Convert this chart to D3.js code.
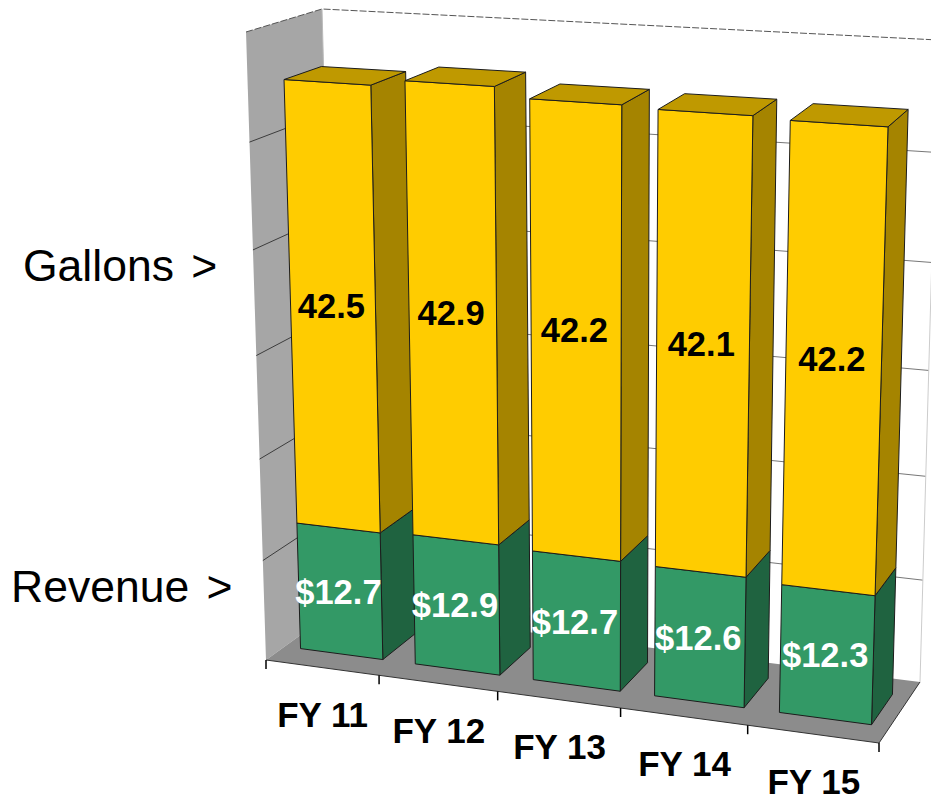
<!DOCTYPE html>
<html>
<head>
<meta charset="utf-8">
<script src="https://cdn.jsdelivr.net/npm/d3@7"></script>
<style>
  body { margin: 0; background: white; }
  text { font-family: "Liberation Sans", Arial, sans-serif; }
</style>
</head>
<body>
<div id="chart"></div>
<script>
// the values
var fiscalYears = ['FY 11', 'FY 12', 'FY 13', 'FY 14', 'FY 15'];
var revenue = [12.7, 12.9, 12.7, 12.6, 12.3];
var gallons = [42.5, 42.9, 42.2, 42.1, 42.2];
var valueTicks = [0, 10, 20, 30, 40, 50, 60];
var rowLabels = ['Gallons >', 'Revenue >'];

// some constants for the page
var chartWidth = 931;
var chartHeight = 797;

// corners of the 3d box on screen: bottom left, bottom right, top right, top left
var frontCorners = [[266, 660], [879, 743], [899, 72], [246, 32]];
var backCorners = [[338, 608], [920, 682], [938, 40], [322, 9]];

// scales into the unit box, the corners then take it to the screen
var xScale = d3.scaleBand().domain(fiscalYears).range([0, 1]).paddingInner(0.28).paddingOuter(0.14);
var tickScale = d3.scaleBand().domain(fiscalYears).range([0, 1]);
var tickBend = d3.scalePow().exponent(1.015).domain([0, 1]).range([0, 1]);
var yScale = d3.scaleLinear().domain([0, 60]).range([0, 1]);
var barFrontDepth = 0.26;
var barBackDepth = 0.76;

// map the unit square onto a four sided shape
function squareToQuad(q) {
    var sx = q[0][0] - q[1][0] + q[2][0] - q[3][0];
    var sy = q[0][1] - q[1][1] + q[2][1] - q[3][1];
    var dx1 = q[1][0] - q[2][0], dx2 = q[3][0] - q[2][0];
    var dy1 = q[1][1] - q[2][1], dy2 = q[3][1] - q[2][1];
    var den = dx1 * dy2 - dx2 * dy1;
    var g = (sx * dy2 - dx2 * sy) / den;
    var h = (dx1 * sy - sx * dy1) / den;
    var a = q[1][0] - q[0][0] + g * q[1][0], b = q[3][0] - q[0][0] + h * q[3][0];
    var d = q[1][1] - q[0][1] + g * q[1][1], e = q[3][1] - q[0][1] + h * q[3][1];
    return function(u, v) {
        var w = g * u + h * v + 1;
        return [(a * u + b * v + q[0][0]) / w, (d * u + e * v + q[0][1]) / w];
    };
}

var frontPlane = squareToQuad(frontCorners);
var backPlane = squareToQuad(backCorners);

// u across, value up, depth from the front (0) to the back (1)
function project(u, value, depth) {
    var f = frontPlane(u, yScale(value));
    var b = backPlane(u, yScale(value));
    return [f[0] + (b[0] - f[0]) * depth, f[1] + (b[1] - f[1]) * depth];
}

var pathOf = d3.line();
function polygon(points) {
    return pathOf(points) + 'Z';
}

// create a container for the chart
var chart = d3.select('div#chart')
    .append('svg')
    .attr('width', chartWidth)
    .attr('height', chartHeight)
    .style('display', 'block');

// walls and floor
var yMax = yScale.domain()[1];
chart.append('path')
    .attr('d', polygon([project(0, 0, 0), project(0, 0, 1), project(0, yMax, 1), project(0, yMax, 0)]))
    .attr('fill', '#a6a6a6');

chart.append('path')
    .attr('d', polygon([project(0, 0, 0), project(1, 0, 0), project(1, 0, 1), project(0, 0, 1)]))
    .attr('fill', '#8c8c8c');

// gridlines on the left wall and the back wall
var gridValues = valueTicks.slice(1, -1);
chart.selectAll('.sideGrid')
    .data(gridValues)
    .join('path')
    .attr('class', 'sideGrid')
    .attr('d', d => pathOf([project(0, d, 0), project(0, d, 1)]))
    .attr('stroke', '#3c3c3c')
    .attr('fill', 'none');

chart.selectAll('.backGrid')
    .data(gridValues)
    .join('path')
    .attr('class', 'backGrid')
    .attr('d', d => pathOf([project(0, d, 1), project(1, d, 1)]))
    .attr('stroke', '#777')
    .attr('fill', 'none');

// outline of the box
chart.append('path')
    .attr('d', pathOf([project(0, yMax, 0), project(0, yMax, 1), project(1, yMax, 1)]))
    .attr('stroke', '#555')
    .attr('stroke-dasharray', '7 2')
    .attr('fill', 'none');

chart.append('path')
    .attr('d', pathOf([project(0, yMax, 1), project(0, 0, 1)]))
    .attr('stroke', '#bbb')
    .attr('fill', 'none');

chart.append('path')
    .attr('d', pathOf([project(1, 0, 1), project(1, yMax, 1)]))
    .attr('stroke', '#ccc')
    .attr('fill', 'none');

chart.append('path')
    .attr('d', pathOf([project(0, 0, 0), project(1, 0, 0), project(1, 0, 1)]))
    .attr('stroke', '#333')
    .attr('fill', 'none');

// tick marks under the floor
var tickPositions = fiscalYears.map(d => tickScale(d)).concat([1]);
chart.selectAll('.tick')
    .data(tickPositions)
    .join('line')
    .attr('class', 'tick')
    .attr('x1', d => project(tickBend(d), 0, 0)[0])
    .attr('y1', d => project(tickBend(d), 0, 0)[1])
    .attr('x2', d => project(tickBend(d), 0, 0)[0])
    .attr('y2', d => project(tickBend(d), 0, 0)[1] + 9)
    .attr('stroke', 'black')
    .attr('stroke-width', 1.5);

// one group for each bar, left to right so the next bar covers the last one
var rows = fiscalYears.map(function(year, i) {
    return {
        year: year,
        segments: [
            {low: 0, high: revenue[i], label: '$' + revenue[i].toFixed(1), front: '#339966', side: '#1f6340', ink: 'white', shift: 0},
            {low: revenue[i], high: revenue[i] + gallons[i], label: gallons[i].toFixed(1), front: '#ffcc00', side: '#a58400', ink: 'black', shift: -4}
        ]
    };
});

var bars = chart.selectAll('.bar')
    .data(rows)
    .join('g')
    .attr('class', 'bar');

bars.each(function(row) {
    var bar = d3.select(this);
    var left = xScale(row.year);
    var right = left + xScale.bandwidth();

    row.segments.forEach(function(s) {
        bar.append('path')
            .attr('d', polygon([project(right, s.low, barFrontDepth), project(right, s.low, barBackDepth), project(right, s.high, barBackDepth), project(right, s.high, barFrontDepth)]))
            .attr('fill', s.side)
            .attr('stroke', '#1c1c1c');

        bar.append('path')
            .attr('d', polygon([project(left, s.low, barFrontDepth), project(right, s.low, barFrontDepth), project(right, s.high, barFrontDepth), project(left, s.high, barFrontDepth)]))
            .attr('fill', s.front)
            .attr('stroke', '#1c1c1c');
    });

    // lid of the bar
    var top = row.segments[1].high;
    bar.append('path')
        .attr('d', polygon([project(left, top, barFrontDepth), project(right, top, barFrontDepth), project(right, top, barBackDepth), project(left, top, barBackDepth)]))
        .attr('fill', '#bf9900')
        .attr('stroke', '#1c1c1c');

    // value labels sit in the middle of each front face
    row.segments.forEach(function(s) {
        var p = project((left + right) / 2, (s.low + s.high) / 2, barFrontDepth);
        bar.append('text')
            .attr('x', p[0] - 1.5)
            .attr('y', p[1] + s.shift)
            .attr('dy', '0.36em')
            .attr('fill', s.ink)
            .style('text-anchor', 'middle')
            .style('font-size', '34.5px')
            .style('font-weight', 'bold')
            .text(s.label);
    });
});

// category labels
chart.selectAll('.category')
    .data(fiscalYears)
    .join('text')
    .attr('class', 'category')
    .attr('x', d => project(tickBend(tickScale(d) + tickScale.bandwidth() / 2), 0, 0)[0] + 1)
    .attr('y', d => project(tickBend(tickScale(d) + tickScale.bandwidth() / 2), 0, 0)[1] + 47)
    .attr('dy', '0.36em')
    .attr('fill', 'black')
    .style('text-anchor', 'middle')
    .style('font-size', '35px')
    .style('font-weight', 'bold')
    .text(d => d);

// row labels on the left
chart.append('text')
    .attr('x', 23)
    .attr('y', 281)
    .attr('fill', 'black')
    .style('font-size', '44.5px')
    .style('word-spacing', '5px')
    .text(rowLabels[0]);

chart.append('text')
    .attr('x', 11)
    .attr('y', 602)
    .attr('fill', 'black')
    .style('font-size', '44.5px')
    .style('word-spacing', '5px')
    .text(rowLabels[1]);
</script>
</body>
</html>
